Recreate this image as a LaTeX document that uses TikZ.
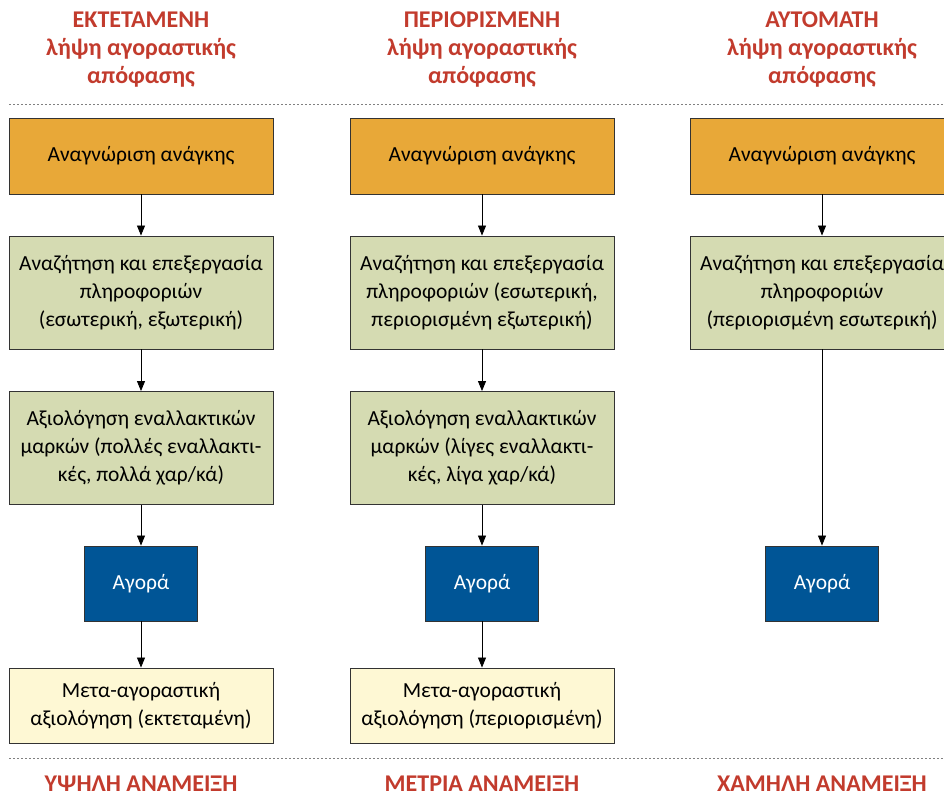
\documentclass[tikz,border=0pt]{standalone}
\usepackage{fontspec}
\setmainfont{Carlito}
\usetikzlibrary{arrows.meta}
\definecolor{cOrange}{HTML}{E8A838}
\definecolor{cGreen}{HTML}{D5DBB2}
\definecolor{cBlue}{HTML}{005596}
\definecolor{cYellow}{HTML}{FEF8D4}
\definecolor{cRed}{HTML}{C23B2D}
\definecolor{cBorder}{HTML}{333333}
\tikzset{
  box/.style={draw=cBorder, line width=0.9pt, align=center, inner sep=0pt,
    font=\fontsize{21.5}{28}\selectfont, text=black},
  wide/.style={box, minimum width=264pt},
  orangebox/.style={wide, fill=cOrange, minimum height=76pt},
  greenbox/.style={wide, fill=cGreen, minimum height=113pt},
  bluebox/.style={box, fill=cBlue, text=white, minimum width=113pt, minimum height=75pt},
  yellowbox/.style={wide, fill=cYellow, minimum height=75pt},
  title/.style={align=center, text=cRed, font=\fontsize{24}{28}\selectfont\bfseries},
  foot/.style={text=cRed, font=\fontsize{24}{28}\selectfont\bfseries},
  conn/.style={-{Triangle[length=10pt,width=8pt]}, line width=0.8pt, black},
  sep/.style={draw=gray, line width=0.9pt, dash pattern=on 2pt off 2pt}
}
\begin{document}
\begin{tikzpicture}[x=1pt,y=-1pt]
\useasboundingbox (0,0) rectangle (944,798);
% titles
\node[title] (t1) at (141,50) {ΕΚΤΕΤΑΜΕΝΗ\\λήψη αγοραστικής\\απόφασης};
\node[title] (t2) at (482,50) {ΠΕΡΙΟΡΙΣΜΕΝΗ\\λήψη αγοραστικής\\απόφασης};
\node[title] (t3) at (822,50) {ΑΥΤΟΜΑΤΗ\\λήψη αγοραστικής\\απόφασης};
% separators
\coordinate (s1a) at (9,104); \coordinate (s1b) at (944,104);
\coordinate (s2a) at (9,758); \coordinate (s2b) at (944,758);
\draw[sep] (s1a) -- (s1b);
\draw[sep] (s2a) -- (s2b);
% column 1
\node[orangebox] (a1) at (141,156) {Αναγνώριση ανάγκης};
\node[greenbox] (b1) at (141,292.5) {Αναζήτηση και επεξεργασία\\πληροφοριών\\(εσωτερική, εξωτερική)};
\node[greenbox] (c1) at (141,448) {Αξιολόγηση εναλλακτικών\\μαρκών (πολλές εναλλακτι-\\κές, πολλά χαρ/κά)};
\node[bluebox] (d1) at (141,583.5) {Αγορά};
\node[yellowbox] (e1) at (141,705.5) {Μετα-αγοραστική\\αξιολόγηση (εκτεταμένη)};
% column 2
\node[orangebox] (a2) at (482,156) {Αναγνώριση ανάγκης};
\node[greenbox] (b2) at (482,292.5) {Αναζήτηση και επεξεργασία\\πληροφοριών (εσωτερική,\\περιορισμένη εξωτερική)};
\node[greenbox] (c2) at (482,448) {Αξιολόγηση εναλλακτικών\\μαρκών (λίγες εναλλακτι-\\κές, λίγα χαρ/κά)};
\node[bluebox] (d2) at (482,583.5) {Αγορά};
\node[yellowbox] (e2) at (482,705.5) {Μετα-αγοραστική\\αξιολόγηση (περιορισμένη)};
% column 3
\node[orangebox] (a3) at (822,156) {Αναγνώριση ανάγκης};
\node[greenbox] (b3) at (822,292.5) {Αναζήτηση και επεξεργασία\\πληροφοριών\\(περιορισμένη εσωτερική)};
\node[bluebox] (d3) at (822,583.5) {Αγορά};
% footers
\node[foot] (f1) at (141,784) {ΥΨΗΛΗ ΑΝΑΜΕΙΞΗ};
\node[foot] (f2) at (482,784) {ΜΕΤΡΙΑ ΑΝΑΜΕΙΞΗ};
\node[foot] (f3) at (822,784) {ΧΑΜΗΛΗ ΑΝΑΜΕΙΞΗ};
% connectors
\draw[conn] (a1) -- (b1);
\draw[conn] (b1) -- (c1);
\draw[conn] (c1) -- (d1);
\draw[conn] (d1) -- (e1);
\draw[conn] (a2) -- (b2);
\draw[conn] (b2) -- (c2);
\draw[conn] (c2) -- (d2);
\draw[conn] (d2) -- (e2);
\draw[conn] (a3) -- (b3);
\draw[conn] (b3) -- (d3);
\end{tikzpicture}
\end{document}
